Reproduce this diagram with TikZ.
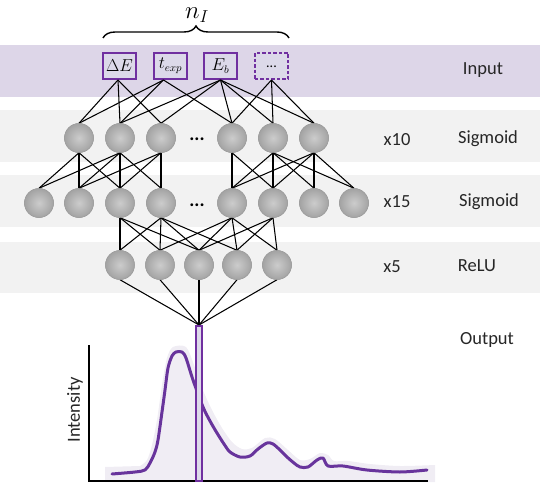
\documentclass[tikz,border=0pt]{standalone}
\usepackage{fontspec}
\setmainfont{Carlito}
\usetikzlibrary{decorations.pathreplacing}
\definecolor{inband}{RGB}{221,214,232}
\definecolor{gband}{RGB}{242,242,242}
\definecolor{pur}{RGB}{112,48,160}
\definecolor{curvec}{RGB}{104,52,156}
\definecolor{boxfill}{RGB}{220,217,233}
\definecolor{shadec}{RGB}{240,237,244}
\begin{document}
\begin{tikzpicture}[x=1pt,y=-1pt,
  neuron/.style={circle, minimum size=29pt, inner sep=0pt, inner color=black!20, outer color=black!36, draw=black!38, line width=0.5pt},
  inbox/.style={draw=pur, fill=boxfill, line width=1.6pt, minimum width=33.4pt, minimum height=26.4pt, inner sep=0pt, font=\fontsize{16}{18}\selectfont},
  conn/.style={line width=1.05pt, black},
  lbl/.style={font=\fontsize{18.5}{22}\selectfont, text=black!85, inner sep=0pt},
  dots/.style={font=\fontsize{19}{22}\selectfont\bfseries, inner sep=0pt},
  band/.style={fill=#1, draw=none},
  barst/.style={draw=pur, fill=boxfill, line width=1.6pt, minimum width=6pt, minimum height=155.4pt, inner sep=0pt}
]
\useasboundingbox (0,0) rectangle (540,486);
% bands
\path[band=inband] (0,45) rectangle (540,97);
\path[band=gband] (0,110) rectangle (540,162);
\path[band=gband] (0,175) rectangle (540,227);
\path[band=gband] (0,242) rectangle (540,293);

% brace and n_I
\coordinate (brl) at (103,38);
\coordinate (brr) at (289,38);
\draw[decorate, decoration={brace, amplitude=12pt}, line width=1.4pt] (brl) -- (brr);
\node[font=\fontsize{24}{28}\selectfont, inner sep=0pt] (nI) at (197,15) {$n_I$};

% input boxes
\node[inbox] (i1) at (119.5,66) {$\Delta E$};
\node[inbox] (i2) at (170.5,66) {$t_{exp}$};
\node[inbox] (i3) at (220.5,66) {$E_b$};
\node[inbox, dashed, dash pattern=on 3.5pt off 2pt, font=\fontsize{14}{16}\selectfont] (i4) at (271.5,66) {\raisebox{-4pt}{...}};

% layer nodes (named, drawn after the connectors below)
\path
  \foreach \n/\x in {1/79,2/120,3/161,4/232,5/273,6/314} { (\x,138) coordinate (pa\n) }
  \foreach \n/\x in {1/39,2/79,3/120,4/161,5/232,6/273,7/314,8/354} { (\x,203) coordinate (pb\n) }
  \foreach \n/\x in {1/120,2/160,3/199,4/237,5/277} { (\x,265) coordinate (pc\n) };
\foreach \n in {1,...,6} \node[neuron] (a\n) at (pa\n) {};
\foreach \n in {1,...,8} \node[neuron] (b\n) at (pb\n) {};
\foreach \n in {1,...,5} \node[neuron] (c\n) at (pc\n) {};
\node[dots] (d1) at (197,139) {...};
\node[dots] (d2) at (197,205) {...};

% output bar
\node[barst] (out) at (199,403.5) {};

% connections input -> layer 1
\foreach \t in {1,2,3} \draw[conn] ([xshift=-1.5pt]i1.south) -- (a\t.north);
\foreach \t in {1,2,4} \draw[conn] ([xshift=-7pt]i2.south) -- (a\t.north);
\foreach \t in {2,3,4,5,6} \draw[conn] (i3.south) -- (a\t.north);
\foreach \t in {4,5,6} \draw[conn] (i4.south) -- (a\t.north);
% layer1 -> layer2
\foreach \t in {1,2,3} \draw[conn] (a1.south) -- (b\t.north);
\foreach \t in {1,2,3,4} \draw[conn] (a2.south) -- (b\t.north);
\foreach \t in {2,3,4} \draw[conn] (a3.south) -- (b\t.north);
\foreach \t in {5,6} \draw[conn] (a4.south) -- (b\t.north);
\foreach \t in {5,6,7,8} \draw[conn] (a5.south) -- (b\t.north);
\foreach \t in {5,6,7,8} \draw[conn] (a6.south) -- (b\t.north);
% layer2 -> layer3
\foreach \t in {1,2,3} \draw[conn] (b3.south) -- (c\t.north);
\foreach \t in {1,2,3,4} \draw[conn] (b4.south) -- (c\t.north);
\foreach \t in {2,3,4,5} \draw[conn] (b5.south) -- (c\t.north);
\foreach \t in {3,4,5} \draw[conn] (b6.south) -- (c\t.north);
% layer3 -> output
\foreach \t in {1,...,5} \draw[conn] (c\t.south) -- (out.north);

% redraw neurons over the connectors
\foreach \n in {1,...,6} \node[neuron] at (a\n) {};
\foreach \n in {1,...,8} \node[neuron] at (b\n) {};
\foreach \n in {1,...,5} \node[neuron] at (c\n) {};

% labels
\node[lbl] (lin) at (483,70) {Input};
\node[lbl] (l10) at (397,140) {x10};
\node[lbl] (ls1) at (488,139) {Sigmoid};
\node[lbl] (l15) at (397,202) {x15};
\node[lbl] (ls2) at (489,202) {Sigmoid};
\node[lbl] (l5) at (392,267) {x5};
\node[lbl] (lre) at (477,266) {ReLU};
\node[lbl] (lout) at (487,340) {Output};

% chart
\fill[shadec] (105,482) -- (105,467) -- plot[smooth, tension=0.5] coordinates {(140,466) (147,460) (152,445) (157,420) (162,385) (167,358) (173,347) (186,347) (194,365) (202,388) (212,410) (222,428) (232,442) (242,449) (252,448) (265,438) (275,439) (288,450) (300,460) (310,459) (320,453) (328,455) (334,461) (348,461) (370,464) (400,466) (435,465)} -- (435,482) -- cycle;
\coordinate (ytop) at (89,345);
\coordinate (orig) at (89,481);
\coordinate (xend) at (428,481);
\draw[line width=2pt] (ytop) -- (orig) -- (xend);
\node[lbl, rotate=90] (lint) at (75,410) {Intensity};
\draw[curvec, line width=3pt, line join=round, line cap=round] plot[smooth, tension=0.5] coordinates {(112,474) (135,472) (145,470) (150,463) (155,452) (158,440) (162,412) (165,390) (168,368) (172,356) (176,352) (182,352) (186,358) (193,380) (203,407) (210,421) (217,433) (224,444) (230,452) (240,457) (250,456) (258,449) (267,443) (273,444) (280,450) (287,457) (294,463) (300,467) (308,467) (317,460) (323,458) (328,466) (343,466) (367,470) (400,472) (427,470)};
% output bar on top of the curve
\node[barst] at (out) {};
\end{tikzpicture}
\end{document}
